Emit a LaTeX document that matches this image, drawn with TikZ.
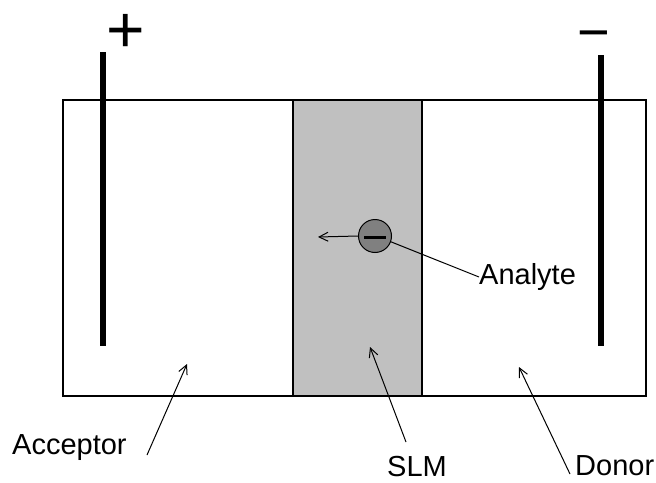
\documentclass[tikz,border=0pt]{standalone}
\usepackage{fontspec}
\setmainfont{Liberation Sans}
\usetikzlibrary{arrows.meta}
\begin{document}
\begin{tikzpicture}[x=1pt,y=-1pt,
  thinline/.style={line width=1.1pt,black},
  electrode/.style={line width=6pt,black},
  lbl/.style={font=\fontsize{29}{32}\selectfont,inner sep=0pt},
  ptr/.style={line width=1pt,-{Straight Barb[length=9pt,width=9pt]}},
  sign/.style={inner sep=0pt,text height=0.6em,text depth=0pt,anchor=base}]
\useasboundingbox (0,0) rectangle (656,482);
% container and membrane
\fill[fill={rgb,255:red,192;green,192;blue,192}] (293,100) rectangle (422,396);
\draw[thinline] (63,100) rectangle (646,396);
\draw[thinline] (293,100) -- (293,396);
\draw[thinline] (422,100) -- (422,396);
% electrodes
\coordinate (eLtop) at (103,52);
\coordinate (eLbot) at (103,346);
\coordinate (eRtop) at (601,55);
\coordinate (eRbot) at (601,346);
\draw[electrode] (eLtop) -- (eLbot);
\draw[electrode] (eRtop) -- (eRbot);
% signs
\node[sign,font=\fontsize{66}{70}\selectfont] (plus) at (126,52) {+};
\node[sign,font=\fontsize{56}{60}\selectfont] (minus) at (594,51) {−};
% analyte
\node[circle,draw=black,line width=1pt,fill={rgb,255:red,128;green,128;blue,128},minimum size=33pt,inner sep=0pt] (an) at (375,236) {};
\draw[line width=3pt] (364,237) -- (386,237);
\coordinate (anEnd) at (318,237);
\draw[ptr] (an.west) -- (anEnd);
\node[lbl,anchor=west] (anl) at (479,277) {Analyte};
\draw[line width=1pt] (an.-20) -- (anl.west);
% labels
\node[lbl,anchor=west] (acc) at (12,448) {Acceptor};
\coordinate (accTip) at (187,364);
\coordinate (accStart) at (147,455);
\draw[ptr] (accStart) -- (accTip);
\node[lbl] (slm) at (417,467) {SLM};
\coordinate (slmTip) at (370,347);
\coordinate (slmStart) at (406,442);
\draw[ptr] (slmStart) -- (slmTip);
\node[lbl,anchor=west] (don) at (575,466) {Donor};
\coordinate (donTip) at (519,367);
\coordinate (donStart) at (570,474);
\draw[ptr] (donStart) -- (donTip);
\end{tikzpicture}
\end{document}
